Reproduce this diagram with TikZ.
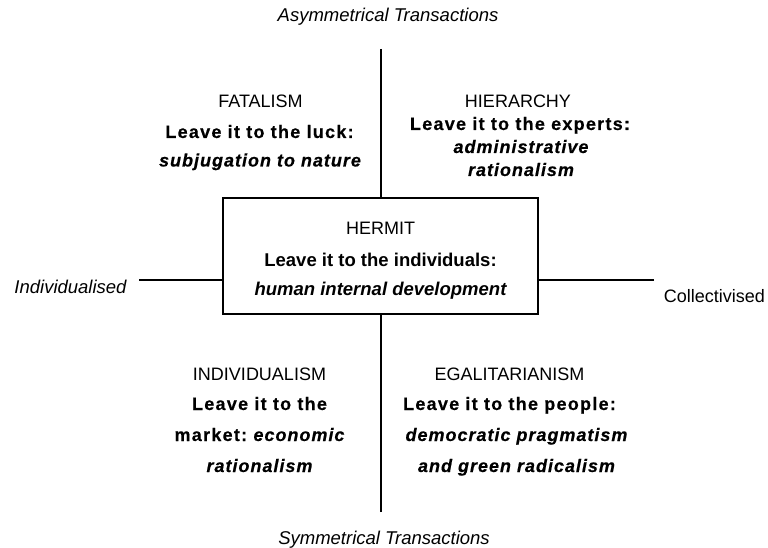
\documentclass[tikz,border=0pt]{standalone}
\usepackage{fontspec}
\setmainfont{Liberation Sans}
\newfontfamily\quadfont[LetterSpace=7,FakeBold=0.4]{Liberation Sans}
\newfontfamily\quaditfont[LetterSpace=5.5,FakeBold=0.4]{Liberation Sans}
\begin{document}
\begin{tikzpicture}[x=1pt,y=-1pt,
  every node/.style={inner sep=0pt,anchor=base},
  lab/.style={font=\fontsize{18}{20}\selectfont},
  axislab/.style={font=\fontsize{18.5}{20}\selectfont\itshape},
  qb/.style={font=\quadfont\fontsize{18}{20}\selectfont\bfseries},
  qbi/.style={font=\quaditfont\fontsize{18}{20}\selectfont\bfseries\itshape},
  hb/.style={font=\fontsize{18.5}{20}\selectfont\bfseries},
  hbi/.style={font=\fontsize{18.5}{20}\selectfont\bfseries\itshape},
  axis/.style={line width=2pt},
  hermitbox/.style={draw,line width=1.3pt,minimum width=315pt,minimum height=116pt,anchor=center}
]
\useasboundingbox (0,0) rectangle (768,548);

% central box
\node[hermitbox] (box) at (380.5,256) {};

% axis end points
\coordinate (top) at (381,49);
\coordinate (bot) at (381,512);
\coordinate (lft) at (139,280);
\coordinate (rgt) at (654,280);

\draw[axis] (top) -- (top |- box.north);
\draw[axis] (bot) -- (bot |- box.south);
\draw[axis] (lft) -- (lft -| box.west);
\draw[axis] (rgt) -- (rgt -| box.east);

% axis labels
\node[axislab] (asym) at (388,22) {Asymmetrical Transactions};
\node[axislab] (sym) at (384,544) {Symmetrical Transactions};
\node[axislab] (indiv) at (70.5,293) {Individualised};
\node[lab] (coll) at (714.5,302) {Collectivised};

% fatalism
\node[lab] (fat1) at (260.5,107.5) {FATALISM};
\node[qb] (fat2) at (259.5,138) {Leave it to the luck:};
\node[qbi] (fat3) at (260,166.5) {subjugation to nature};

% hierarchy
\node[lab] (hie1) at (518,107.5) {HIERARCHY};
\node[qb] (hie2) at (520,130) {Leave it to the experts:};
\node[qbi] (hie3) at (521,153) {administrative};
\node[qbi] (hie4) at (521,176) {rationalism};

% hermit
\node[lab] (her1) at (380.5,234.5) {HERMIT};
\node[hb] (her2) at (380.5,266) {Leave it to the individuals:};
\node[hbi] (her3) at (380.5,295) {human internal development};

% individualism
\node[lab] (ind1) at (259.5,380.5) {INDIVIDUALISM};
\node[qb] (ind2) at (259.5,410) {Leave it to the};
\node[qb] (ind3) at (259.5,441) {market:\hspace{-2pt} {\quaditfont\itshape economic}};
\node[qbi] (ind4) at (259.5,472) {rationalism};

% egalitarianism
\node[lab] (ega1) at (509.5,380.5) {EGALITARIANISM};
\node[qb] (ega2) at (509.5,410) {Leave it to the people:};
\node[qbi] (ega3) at (516.5,441) {democratic pragmatism};
\node[qbi] (ega4) at (516.5,472) {and green radicalism};
\end{tikzpicture}
\end{document}
